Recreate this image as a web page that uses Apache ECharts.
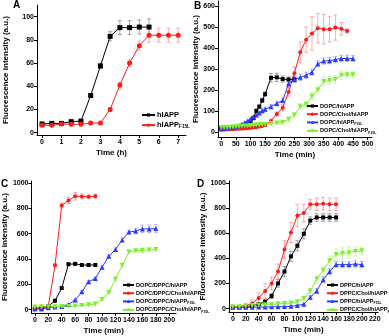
<!DOCTYPE html>
<html>
<head>
<meta charset="utf-8">
<script src="https://cdn.jsdelivr.net/npm/echarts@6/dist/echarts.min.js"></script>
<style>
  html, body { margin: 0; padding: 0; background: #fff; }
  #chart { width: 389px; height: 336px; }
</style>
</head>
<body>
<div id="chart"></div>
<script>
// ---- panel A (h) ----
const timeA1 = [0, 0.5, 1, 1.5, 2, 2.5, 3, 3.5, 4, 4.5, 5, 5.5];
const hiappA = [7.5, 8, 8, 9.5, 10, 32, 57.5, 83, 90.5, 90.5, 91, 91];
const hiappAErr = [1, 1, 1, 1, 1, 1.5, 2, 4, 6, 6, 6, 7];
const timeA2 = [0, 0.5, 1, 1.5, 2, 2.5, 3, 3.5, 4, 4.5, 5, 5.5, 6, 6.5, 7];
const f15lA = [6.3, 6.3, 7.5, 7.2, 7.2, 8.3, 8.3, 20, 41, 60, 75, 84, 84, 84, 84];
const f15lAErr = [1, 1, 1, 1, 1, 1, 1, 1.5, 2.5, 3, 4, 6, 6, 6, 6];

// ---- panel B (min) ----
const timeB1 = [0, 10, 20, 30, 40, 50, 60, 70, 80, 90, 100, 110, 120, 130, 140, 150, 170, 190, 210, 230, 250];
const dopcB = [15, 15, 16, 18, 20, 22, 25, 28, 33, 40, 50, 65, 100, 120, 150, 180, 258, 260, 252, 250, 250];
const dopcBErr = [3, 3, 3, 3, 3, 3, 3, 3, 4, 4, 5, 6, 8, 8, 10, 10, 20, 20, 15, 12, 12];
const timeB2 = [0, 10, 20, 30, 40, 50, 60, 70, 80, 90, 100, 110, 120, 130, 140, 150, 170, 190, 210, 230, 250, 270, 290, 310, 330, 350, 370, 390, 410, 430];
const cholB = [10, 10, 11, 12, 12, 13, 14, 15, 16, 17, 18, 20, 22, 25, 28, 32, 52, 85, 115, 190, 280, 380, 440, 470, 495, 490, 490, 498, 492, 482];
const cholBErr = [3, 3, 3, 3, 3, 3, 3, 3, 3, 3, 3, 4, 4, 5, 5, 6, 8, 10, 15, 20, 30, 50, 60, 80, 70, 70, 60, 60, 30, 10];
const timeB3 = [0, 10, 20, 30, 40, 50, 60, 70, 80, 90, 100, 110, 120, 130, 140, 150, 170, 190, 210, 230, 250, 270, 290, 310, 330, 350, 370, 390, 410, 430, 450];
const dopcF15LB = [15, 17, 18, 20, 22, 25, 30, 35, 42, 50, 60, 70, 80, 90, 100, 108, 120, 135, 150, 230, 250, 260, 270, 285, 325, 338, 340, 345, 350, 350, 350];
const dopcF15LBErr = [3, 3, 3, 3, 3, 4, 4, 5, 5, 6, 6, 8, 8, 8, 10, 10, 10, 12, 12, 15, 15, 15, 15, 15, 15, 15, 15, 15, 15, 15, 15];
const cholF15LB = [20, 20, 21, 22, 23, 24, 25, 26, 27, 28, 30, 31, 32, 33, 35, 36, 40, 42, 45, 60, 80, 120, 130, 170, 200, 240, 245, 250, 270, 272, 272];
const cholF15LBErr = [3, 3, 3, 3, 3, 3, 3, 3, 3, 3, 3, 3, 3, 4, 4, 4, 5, 6, 8, 10, 12, 15, 15, 18, 20, 20, 20, 20, 20, 15, 15];

// ---- panel C (min) ----
const timeC1 = [0, 10, 20, 30, 40, 50, 60, 70, 80, 90];
const dppcC = [5, 10, 26, 70, 170, 358, 361, 352, 352, 352];
const dppcCErr = [3, 3, 5, 8, 10, 10, 10, 8, 8, 8];
const cholC = [10, 15, 25, 350, 822, 861, 895, 893, 890, 895];
const cholCErr = [3, 3, 5, 10, 20, 25, 30, 20, 15, 15];
const timeC2 = [0, 10, 20, 30, 40, 50, 60, 70, 80, 90, 100, 110, 120, 130, 140, 150, 160, 170, 180];
const dppcF15LC = [5, 5, 15, 20, 25, 40, 75, 140, 220, 245, 335, 420, 475, 550, 612, 620, 637, 637, 640];
const dppcF15LCErr = [3, 3, 3, 3, 4, 5, 6, 8, 10, 10, 10, 12, 12, 15, 15, 20, 30, 30, 30];
const cholF15LC = [20, 22, 22, 22, 25, 25, 28, 32, 38, 45, 80, 135, 240, 350, 455, 465, 468, 470, 475];
const cholF15LCErr = [3, 3, 3, 3, 3, 3, 3, 4, 4, 5, 6, 8, 10, 12, 15, 15, 15, 15, 15];

// ---- panel D (min) ----
const timeD1 = [0, 10, 20, 30, 40, 50, 60, 70, 80, 90, 100, 110, 120, 130, 140, 150, 160];
const dppcD = [10, 10, 15, 22, 35, 55, 100, 200, 295, 415, 500, 595, 700, 725, 725, 725, 725];
const dppcDErr = [5, 5, 5, 8, 10, 15, 20, 30, 40, 40, 40, 40, 30, 30, 30, 30, 30];
const cholD = [15, 15, 25, 40, 85, 140, 200, 295, 470, 605, 740, 760, 830, 830, 835, 830, 830];
const cholDErr = [5, 5, 10, 30, 40, 60, 50, 60, 70, 80, 90, 70, 40, 50, 50, 50, 50];
const timeD2 = [0, 10, 20, 30, 40, 50, 60, 70, 80, 90, 100, 110, 120, 130, 140, 150, 160, 170, 180, 190, 200];
const dppcF15LD = [10, 10, 10, 10, 12, 12, 14, 15, 16, 18, 25, 35, 90, 140, 230, 295, 350, 350, 350, 355, 350];
const dppcF15LDErr = [3, 3, 3, 3, 3, 3, 3, 3, 4, 4, 5, 8, 15, 20, 25, 25, 25, 25, 25, 25, 25];
const cholF15LD = [15, 15, 20, 25, 28, 30, 32, 38, 40, 45, 55, 80, 140, 235, 305, 380, 430, 440, 445, 455, 460];
const cholF15LDErr = [3, 3, 5, 5, 5, 5, 6, 8, 8, 10, 10, 15, 20, 30, 35, 40, 45, 50, 45, 35, 30];

// tick values
const ticksA_x = [0, 1, 2, 3, 4, 5, 6, 7];
const ticksA_y = [0, 20, 40, 60, 80, 100];
const ticksB_x = [0, 50, 100, 150, 200, 250, 300, 350, 400, 450, 500];
const ticksB_y = [0, 100, 200, 300, 400, 500, 600];
const ticksC_x = [0, 20, 40, 60, 80, 100, 120, 140, 160, 180, 200];
const ticksD_x = [0, 20, 40, 60, 80, 100, 120, 140, 160, 180, 200, 220];
const ticksCD_y = [0, 200, 400, 600, 800, 1000];

const BLACK = '#000000', RED = '#ff1a1a', BLUE = '#2b3bff', GREEN = '#7cf02c';
const FONT = 'Liberation Sans';
const downTri = 'path://M0,0 L10,0 L5,9 Z';

const chart = echarts.init(document.getElementById('chart'));

function errBars(idx, xs, ys, es, color) {
  return {
    type: 'custom',
    xAxisIndex: idx,
    yAxisIndex: idx,
    silent: true,
    z: 1,
    data: xs.map((x, i) => [x, ys[i], es[i]]),
    renderItem: (params, api) => {
      const x = api.value(0), y = api.value(1), e = api.value(2);
      const hi = api.coord([x, y + e]);
      const lo = api.coord([x, y - e]);
      const st = { stroke: color, lineWidth: 1, opacity: 0.35 };
      return {
        type: 'group',
        children: [
          { type: 'line', shape: { x1: hi[0], y1: hi[1], x2: lo[0], y2: lo[1] }, style: st },
          { type: 'line', shape: { x1: hi[0] - 2, y1: hi[1], x2: hi[0] + 2, y2: hi[1] }, style: st },
          { type: 'line', shape: { x1: lo[0] - 2, y1: lo[1], x2: lo[0] + 2, y2: lo[1] }, style: st }
        ]
      };
    }
  };
}

function line(idx, name, xs, ys, color, symbol, size) {
  return {
    type: 'line',
    name: name,
    xAxisIndex: idx,
    yAxisIndex: idx,
    data: xs.map((x, i) => [x, ys[i]]),
    symbol: symbol,
    symbolSize: size,
    showSymbol: true,
    z: 3,
    itemStyle: { color: color },
    lineStyle: { color: color, width: 1 },
    emphasis: { disabled: true }
  };
}

function xAxis(idx, min, max, ticks, name, gap) {
  return {
    type: 'value', gridIndex: idx, min: min, max: max,
    name: name, nameLocation: 'middle', nameGap: gap,
    nameTextStyle: { fontFamily: FONT, fontWeight: 'bold', fontSize: 8, color: '#000' },
    splitLine: { show: false },
    axisLine: { onZero: false, lineStyle: { color: '#000', width: 1 } },
    axisTick: { customValues: ticks, length: 3, lineStyle: { color: '#000' } },
    axisLabel: { customValues: ticks, formatter: v => String(v), fontFamily: FONT, fontWeight: 'bold', fontSize: 7, color: '#000', margin: 4 }
  };
}

function yAxis(idx, min, max, ticks, gap) {
  return {
    type: 'value', gridIndex: idx, min: min, max: max,
    name: 'Fluorescence intensity (a.u.)', nameLocation: 'middle', nameGap: gap,
    nameTextStyle: { fontFamily: FONT, fontWeight: 'bold', fontSize: 8, color: '#000' },
    splitLine: { show: false },
    axisLine: { onZero: false, lineStyle: { color: '#000', width: 1 } },
    axisTick: { customValues: ticks, length: 3, lineStyle: { color: '#000' } },
    axisLabel: { customValues: ticks, formatter: v => String(v), fontFamily: FONT, fontWeight: 'bold', fontSize: 7, color: '#000', margin: 3 }
  };
}

function legendFmt(name) {
  if (name.endsWith(' F15L')) {
    return '{a|' + name.slice(0, -5) + '}{s|F15L}';
  }
  return '{a|' + name + '}';
}

function legend(names, left, top, fs, gap, iw) {
  return {
    data: names,
    orient: 'vertical',
    left: left, top: top,
    itemWidth: iw, itemHeight: 4,
    itemGap: gap,
    padding: 0,
    selectedMode: false,
    formatter: legendFmt,
    textStyle: {
      color: '#000', padding: [0, 0, 0, -3],
      rich: {
        a: { fontFamily: FONT, fontWeight: 'bold', fontSize: fs, color: '#000', lineHeight: fs + 1 },
        s: { fontFamily: FONT, fontWeight: 'bold', fontSize: fs * 0.62, color: '#000', lineHeight: fs + 1, verticalAlign: 'bottom', padding: [fs * 0.45, 0, 0, 0] }
      }
    }
  };
}

const nA1 = 'hIAPP', nA2 = 'hIAPP F15L';
const nB = ['DOPC/hIAPP', 'DOPC/Chol/hIAPP', 'DOPC/hIAPP F15L', 'DOPC/Chol/hIAPP F15L'];
const nC = ['DOPC/DPPC/hIAPP', 'DOPC/DPPC/Chol/hIAPP', 'DOPC/DPPC/hIAPP F15L', 'DOPC/DPPC/Chol/hIAPP F15L'];
const nD = ['DPPC/hIAPP', 'DPPC/Chol/hIAPP', 'DPPC/hIAPP F15L', 'DPPC/Chol/hIAPP F15L'];

const option = {
  animation: false,
  backgroundColor: '#fff',
  grid: [
    { left: 37, top: 5, width: 149, height: 130 },
    { left: 218, top: 1, width: 154, height: 136 },
    { left: 30, top: 181, width: 146, height: 133 },
    { left: 229, top: 181, width: 149, height: 131 }
  ],
  xAxis: [
    xAxis(0, -0.26, 7.4, ticksA_x, 'Time (h)', 14),
    xAxis(1, -11, 515, ticksB_x, 'Time (min)', 14),
    xAxis(2, -5, 210, ticksC_x, 'Time (min)', 14),
    xAxis(3, -6, 225, ticksD_x, 'Time (min)', 14)
  ],
  yAxis: [
    yAxis(0, -2, 110, ticksA_y, 27),
    yAxis(1, -25, 625, ticksB_y, 17),
    yAxis(2, -27, 1015, ticksCD_y, 22),
    yAxis(3, -27, 1015, ticksCD_y, 22)
  ],
  legend: [
    legend([nA1, nA2], 141, 111, 7.5, 2, 13),
    legend(nB, 306, 103, 5.6, 2.2, 11),
    legend(nC, 122, 282, 5.6, 2.2, 11),
    legend(nD, 326, 282, 5.6, 2.2, 11)
  ],
  graphic: [
    { type: 'text', left: 13, top: 0, style: { text: 'A', font: 'bold 10px "Liberation Sans"', fill: '#000' } },
    { type: 'text', left: 194, top: 1, style: { text: 'B', font: 'bold 10px "Liberation Sans"', fill: '#000' } },
    { type: 'text', left: 1, top: 179, style: { text: 'C', font: 'bold 10px "Liberation Sans"', fill: '#000' } },
    { type: 'text', left: 197, top: 179, style: { text: 'D', font: 'bold 10px "Liberation Sans"', fill: '#000' } }
  ],
  series: [
    errBars(0, timeA1, hiappA, hiappAErr, BLACK),
    errBars(0, timeA2, f15lA, f15lAErr, RED),
    line(0, nA1, timeA1, hiappA, BLACK, 'rect', 5),
    line(0, nA2, timeA2, f15lA, RED, 'circle', 5),

    errBars(1, timeB1, dopcB, dopcBErr, BLACK),
    errBars(1, timeB2, cholB, cholBErr, RED),
    errBars(1, timeB3, dopcF15LB, dopcF15LBErr, BLUE),
    errBars(1, timeB3, cholF15LB, cholF15LBErr, GREEN),
    line(1, nB[0], timeB1, dopcB, BLACK, 'rect', 4),
    line(1, nB[1], timeB2, cholB, RED, 'circle', 4),
    line(1, nB[2], timeB3, dopcF15LB, BLUE, 'triangle', 5),
    line(1, nB[3], timeB3, cholF15LB, GREEN, downTri, 5),

    errBars(2, timeC1, dppcC, dppcCErr, BLACK),
    errBars(2, timeC1, cholC, cholCErr, RED),
    errBars(2, timeC2, dppcF15LC, dppcF15LCErr, BLUE),
    errBars(2, timeC2, cholF15LC, cholF15LCErr, GREEN),
    line(2, nC[0], timeC1, dppcC, BLACK, 'rect', 4),
    line(2, nC[1], timeC1, cholC, RED, 'circle', 4),
    line(2, nC[2], timeC2, dppcF15LC, BLUE, 'triangle', 5),
    line(2, nC[3], timeC2, cholF15LC, GREEN, downTri, 5),

    errBars(3, timeD1, dppcD, dppcDErr, BLACK),
    errBars(3, timeD1, cholD, cholDErr, RED),
    errBars(3, timeD2, dppcF15LD, dppcF15LDErr, BLUE),
    errBars(3, timeD2, cholF15LD, cholF15LDErr, GREEN),
    line(3, nD[0], timeD1, dppcD, BLACK, 'rect', 4),
    line(3, nD[1], timeD1, cholD, RED, 'circle', 4),
    line(3, nD[2], timeD2, dppcF15LD, BLUE, 'triangle', 5),
    line(3, nD[3], timeD2, cholF15LD, GREEN, downTri, 5)
  ]
};

chart.setOption(option);
</script>
</body>
</html>
